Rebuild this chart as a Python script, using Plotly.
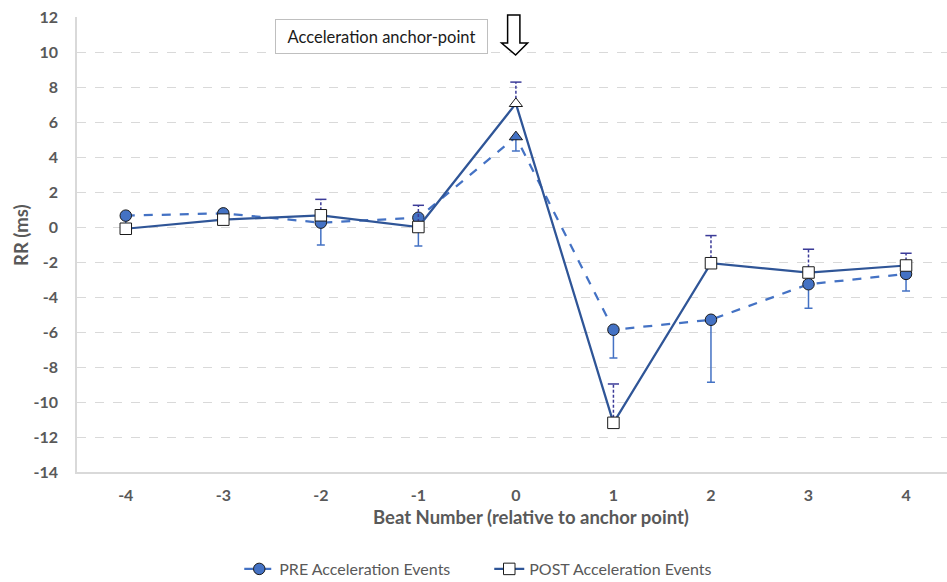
import plotly.graph_objects as go

beats = [-4, -3, -2, -1, 0, 1, 2, 3, 4]
tick_labels = ["-4", "-3", "-2", "-1", "0", "1", "2", "3", "4"]
y_ticks = [-14, -12, -10, -8, -6, -4, -2, 0, 2, 4, 6, 8, 10, 12]

pre_vals = [0.65, 0.78, 0.25, 0.53, 5.15, -5.87, -5.30, -3.27, -2.68]
pre_err_minus = [0.5, 0.5, 1.28, 1.61, 0.80, 1.62, 3.57, 1.37, 0.97]

post_vals = [-0.10, 0.42, 0.67, 0.00, 7.05, -11.19, -2.07, -2.60, -2.20]
post_err_plus = [0.2, 0.2, 0.91, 1.24, 1.23, 2.22, 1.58, 1.33, 0.70]

pre_symbols = ["circle"] * 4 + ["triangle-up"] + ["circle"] * 4
post_symbols = ["square"] * 4 + ["triangle-up"] + ["square"] * 4

PRE_COLOR = "#4472C4"
POST_COLOR = "#2F5597"
POST_ERR_COLOR = "#3B3B98"
TEXT_GRAY = "#595959"
FONT = "Lato"

fig = go.Figure()

# PRE series
fig.add_trace(go.Scatter(
    x=beats, y=pre_vals, mode="lines+markers",
    name="PRE Acceleration Events",
    line=dict(color=PRE_COLOR, width=2.25, dash="dash"),
    marker=dict(symbol=pre_symbols, size=11.5, color=PRE_COLOR,
                line=dict(color="#1a1a1a", width=1)),
    error_y=dict(type="data", symmetric=False, array=[0] * len(beats),
                 arrayminus=pre_err_minus, color=PRE_COLOR, thickness=1.5, width=4),
))

# POST error bars (dashed stems + caps)
ex, ey = [], []
for b, v, e in zip(beats, post_vals, post_err_plus):
    ex += [b, b, None]
    ey += [v, v + e, None]
fig.add_trace(go.Scatter(
    x=ex, y=ey, mode="lines", showlegend=False, hoverinfo="skip",
    line=dict(color=POST_ERR_COLOR, width=1.5, dash="3px,2px"),
))
fig.add_trace(go.Scatter(
    x=beats, y=[v + e for v, e in zip(post_vals, post_err_plus)],
    mode="markers", showlegend=False, hoverinfo="skip",
    marker=dict(symbol="line-ew-open", size=8, color=POST_ERR_COLOR,
                line=dict(color=POST_ERR_COLOR, width=1.5)),
))

# POST series
fig.add_trace(go.Scatter(
    x=beats, y=post_vals, mode="lines+markers",
    name="POST Acceleration Events",
    line=dict(color=POST_COLOR, width=2.25),
    marker=dict(symbol=post_symbols, size=11.5, color="white",
                line=dict(color="#1a1a1a", width=1)),
))

# annotation box
fig.add_annotation(
    x=-1.374, y=0.957, xref="x", yref="paper", xanchor="center", yanchor="middle",
    text="Acceleration anchor-point", showarrow=False,
    font=dict(family=FONT, size=16.5, color="#1a1a1a"),
    bordercolor="#bfbfbf", borderwidth=1, bgcolor="white",
    width=207, height=29, borderpad=2, align="center",
)

# hollow down arrow
fig.add_shape(
    type="path", xref="x", yref="paper",
    path="M -0.085,1.0044 L 0.041,1.0044 L 0.041,0.9429 L 0.12,0.9429 "
         "L -0.003,0.9165 L -0.147,0.9429 L -0.085,0.9429 Z",
    line=dict(color="black", width=1.5), fillcolor="white", layer="above",
)

# x axis title as annotation
fig.add_annotation(
    x=(530 - 515) / 97.5, y=(472 - 517) / 455, xref="x", yref="paper",
    xanchor="center", yanchor="middle", showarrow=False,
    text="<b>Beat Number (relative to anchor point)</b>",
    font=dict(family=FONT, size=18.5, color=TEXT_GRAY),
)
# y axis title as annotation
fig.add_annotation(
    x=(21 - 77) / 870, y=(472 - 235) / 455, xref="paper", yref="paper",
    xanchor="center", yanchor="middle", showarrow=False, textangle=-90,
    text="<b>RR (ms)</b>",
    font=dict(family=FONT, size=18.5, color=TEXT_GRAY),
)

fig.update_layout(
    width=947, height=582,
    margin=dict(l=77, r=0, t=17, b=110),
    plot_bgcolor="white", paper_bgcolor="white",
    font=dict(family=FONT, color=TEXT_GRAY),
    showlegend=True,
    legend=dict(orientation="h", x=0.1865, xanchor="left",
                yref="container", y=1 - 569 / 582, yanchor="middle",
                font=dict(family=FONT, size=16, color=TEXT_GRAY),
                entrywidth=205, traceorder="normal"),
    xaxis=dict(range=[-4.5, 4.42], tickvals=beats,
               ticktext=["<b>%s</b>" % t for t in tick_labels],
               showgrid=False, zeroline=False, showline=True, linecolor="#d9d9d9",
               linewidth=1.5, ticks="", ticklabelstandoff=8,
               tickfont=dict(family=FONT, size=16, color=TEXT_GRAY)),
    yaxis=dict(range=[-14, 12], tickvals=y_ticks,
               ticktext=["<b>%d</b>" % t for t in y_ticks],
               showgrid=True, gridcolor="#d9d9d9", griddash="dash", gridwidth=1,
               zeroline=False, showline=True, linecolor="#d9d9d9", linewidth=1.5,
               ticks="", ticklabelstandoff=14,
               tickfont=dict(family=FONT, size=16, color=TEXT_GRAY)),
)

fig.write_html("out.html")
